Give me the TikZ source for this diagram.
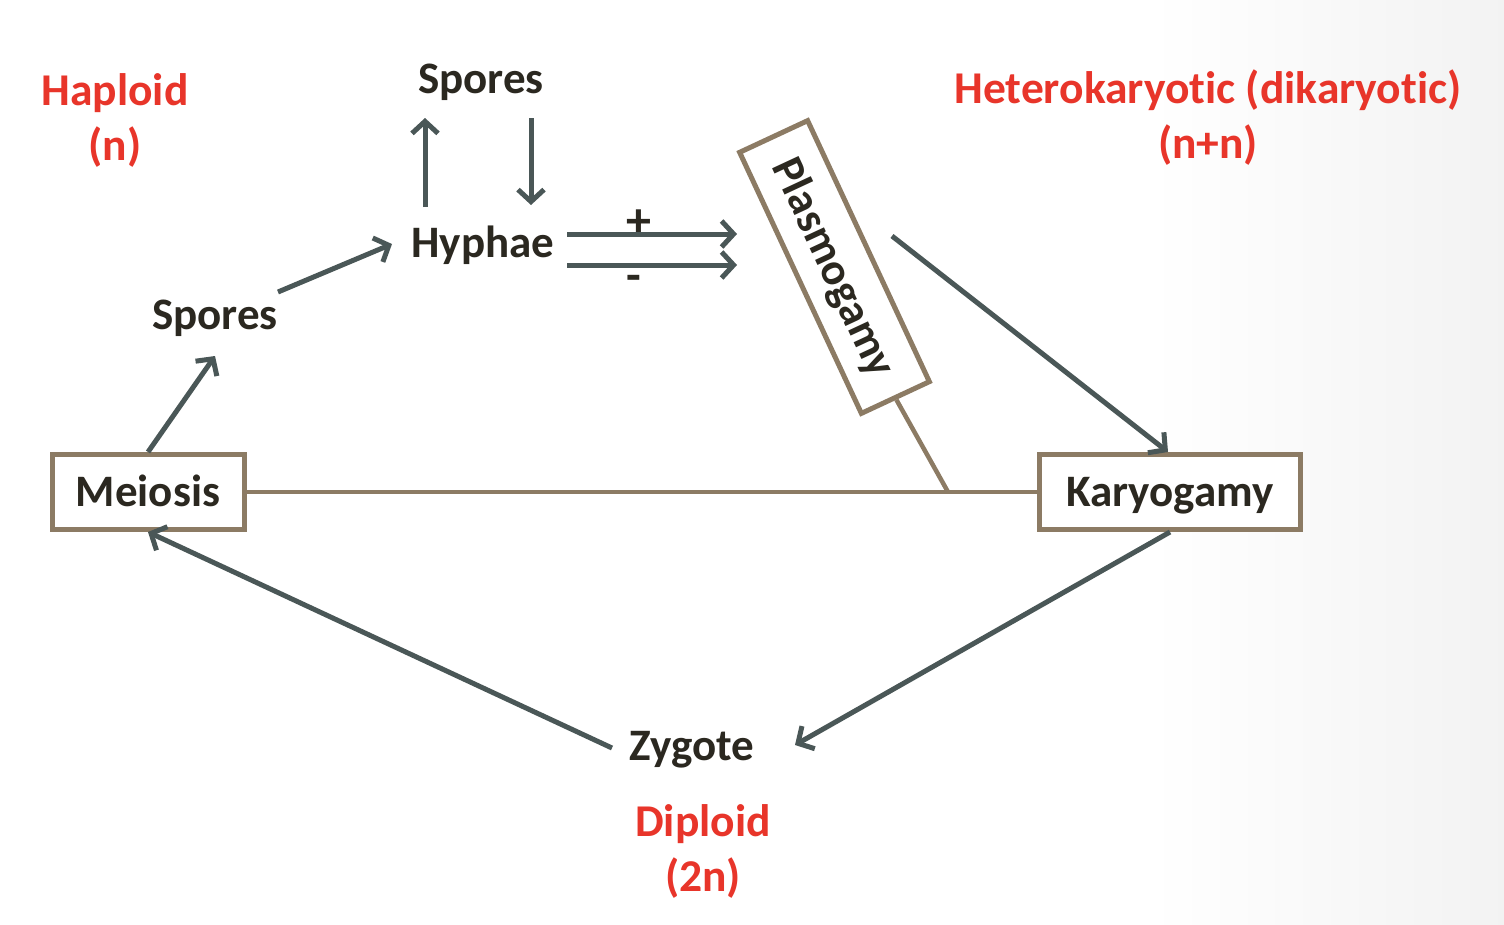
\documentclass[tikz,border=0pt]{standalone}
\usepackage{fontspec}
\setmainfont{Carlito}[Ligatures=NoCommon]
\usetikzlibrary{arrows.meta}
\definecolor{arr}{HTML}{4A5757}
\definecolor{tan}{HTML}{8C7B64}
\definecolor{ink}{HTML}{2B2820}
\definecolor{redt}{HTML}{E8352A}
\begin{document}
\begin{tikzpicture}[x=1pt,y=-1pt,
  txt/.style={inner sep=0pt, text=ink, font=\fontsize{45}{50}\selectfont\bfseries},
  redlab/.style={inner sep=0pt, text=redt, align=center, font=\fontsize{45.5}{55}\selectfont\bfseries},
  boxn/.style={txt, draw=tan, line width=5pt, fill=white, minimum height=75pt, text height=29pt, text depth=0pt},
  flow/.style={draw=arr, line width=5pt, -{Straight Barb[length=12pt,width=26pt,line width=5pt]}},
  link/.style={draw=tan, line width=4.5pt}]
\useasboundingbox (0,0) rectangle (1504,924);
\fill[white] (0,0) rectangle (1504,924);
\shade[left color=white, right color=black!5, draw=none] (1150,0) rectangle (1504,924);
% nodes
\node[redlab] (hap) at (115,120) {Haploid\\(n)};
\node[redlab] (het) at (1208,118) {Heterokaryotic (dikaryotic)\\(n+n)};
\node[redlab] (dip) at (703,851) {Diploid\\(2n)};
\node[txt] (sp1) at (481,82) {Spores};
\node[txt] (hy) at (483,245) {Hyphae};
\node[txt] (sp2) at (215,318) {Spores};
\node[txt] (zy) at (692,750) {Zygote};
\node[boxn, minimum width=192pt] (mei) at (148,492) {Meiosis};
\node[boxn, minimum width=261pt] (kar) at (1170,492) {Karyogamy};
\node[boxn, minimum width=288pt, rotate=-65] (pla) at (834.5,267) {Plasmogamy};
\node[txt, font=\fontsize{50}{54}\selectfont\bfseries] (plus) at (639,224) {+};
\node[txt, font=\fontsize{48}{52}\selectfont\bfseries] (minus) at (634,283) {-};
% coordinates
\coordinate (upS) at (425,207);
\coordinate (upE) at (425,118);
\coordinate (dnS) at (531,118);
\coordinate (dnE) at (531,205);
\coordinate (p1s) at (567,234);
\coordinate (p1e) at (737,234);
\coordinate (p2s) at (567,265);
\coordinate (p2e) at (737,265);
\coordinate (s2a) at (278,292);
\coordinate (s2b) at (392,244);
\coordinate (ms) at (215,356);
\coordinate (mk) at (948,492);
\coordinate (plk) at (892,236);
\coordinate (kz) at (795,745);
\coordinate (zm) at (612,748);
% connectors
\draw[link] (mei.east) -- (kar.west);
\draw[link] (pla.east) -- (mk);
\draw[flow] (upS) -- (upE);
\draw[flow] (dnS) -- (dnE);
\draw[flow] (p1s) -- (p1e);
\draw[flow] (p2s) -- (p2e);
\draw[flow] (s2a) -- (s2b);
\draw[flow] (mei.north) -- (ms);
\draw[flow] (plk) -- ([xshift=-2pt]kar.north);
\draw[flow] (kar.south) -- (kz);
\draw[flow] (zm) -- (mei.south);
\end{tikzpicture}
\end{document}
